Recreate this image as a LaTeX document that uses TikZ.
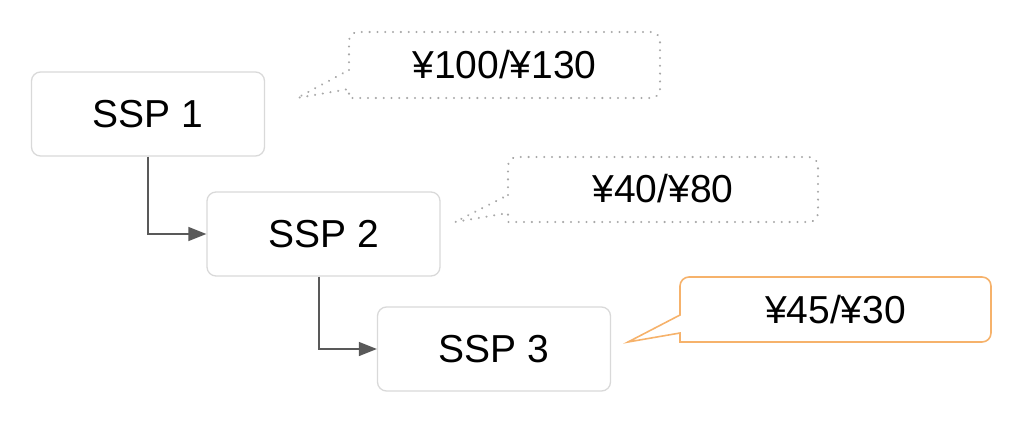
\documentclass[tikz,border=0pt]{standalone}
\usepackage{fontspec}
\setmainfont{Liberation Sans}
\usetikzlibrary{arrows.meta}
\definecolor{boxgray}{HTML}{D9D9D9}
\definecolor{arrowgray}{HTML}{595959}
\definecolor{dotgray}{HTML}{A8A8A8}
\definecolor{calloutorange}{HTML}{F6B26B}
\tikzset{
  ssp/.style={draw=boxgray, line width=1.3pt, rounded corners=9pt, minimum width=233pt, minimum height=84pt, inner sep=0pt, font=\fontsize{39}{46}\selectfont, text=black},
  flow/.style={draw=arrowgray, line width=1.5pt, -{Triangle[length=18pt,width=14pt]}},
  dotcallout/.style={draw=dotgray, line width=2.3pt, dash pattern=on 0.01pt off 7.8pt, line cap=round},
  orangecallout/.style={draw=calloutorange, line width=1.6pt},
  price/.style={font=\fontsize{39}{46}\selectfont, text=black, inner sep=0pt}
}
\begin{document}
\begin{tikzpicture}[x=1pt,y=-1pt]
\useasboundingbox (0,0) rectangle (1024,428);
% boxes
\node[ssp] (s1) at (148,114) {SSP 1};
\node[ssp] (s2) at (323.5,234) {SSP 2};
\node[ssp] (s3) at (494,349) {SSP 3};
% connectors
\draw[flow] (s1.south) |- (s2.west);
\draw[flow] (s2.south -| 319,0) |- (s3.west);
% callout 1
\draw[dotcallout] (349,70) [rounded corners=9pt] -- (349,32) -- (660,32) -- (660,98) -- (358,98) [sharp corners] .. controls (349,98) .. (349,89) -- (297,98) -- cycle;
\node[price] (p1) at (504.5,65) {¥100/¥130};
% callout 2
\draw[dotcallout] (508,195) [rounded corners=9pt] -- (508,157) -- (818,157) -- (818,222) -- (517,222) [sharp corners] .. controls (508,222) .. (508,213) -- (455,222) -- cycle;
\node[price] (p2) at (663,189) {¥40/¥80};
% callout 3
\draw[orangecallout] (680,315) [rounded corners=9pt] -- (680,277) -- (991,277) -- (991,342) -- (689,342) [sharp corners] .. controls (680,342) .. (680,333) -- (628,342) -- cycle;
\node[price] (p3) at (835.5,309.5) {¥45/¥30};
\end{tikzpicture}
\end{document}
